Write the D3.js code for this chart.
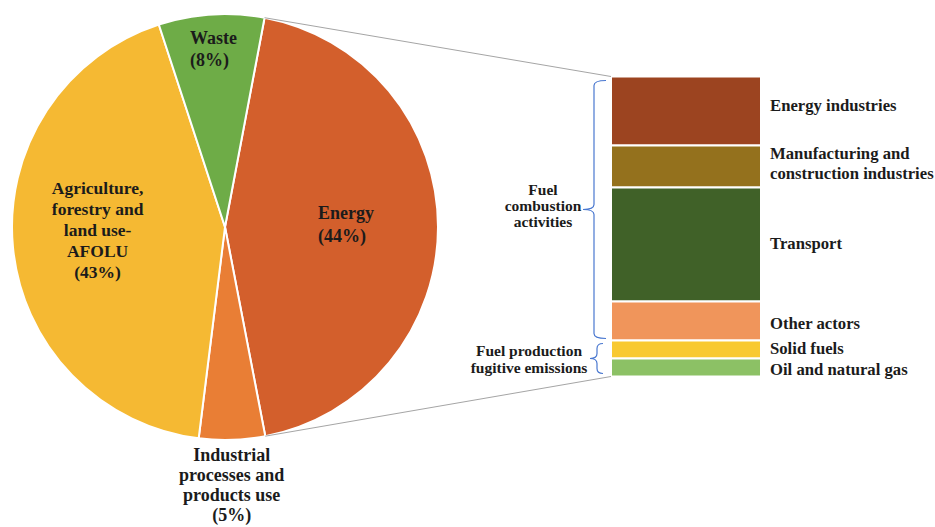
<!DOCTYPE html>
<html>
<head>
<meta charset="utf-8">
<script src="https://cdn.jsdelivr.net/npm/d3@7"></script>
<style>
  html, body { margin: 0; padding: 0; background: #fff; }
  svg { display: block; font-family: "Liberation Serif", "Times New Roman", serif; }
</style>
</head>
<body>
<svg id="chart" width="935" height="527"></svg>
<script>
// Emission shares by sector (%)
const sectors = ["Energy", "Industrial processes and products use", "Agriculture, forestry and land use-AFOLU", "Waste"];
const sectorShares = [44, 5, 43, 8];
const sectorLabelLines = [
  ["Energy", "(44%)"],
  ["Industrial", "processes and", "products use", "(5%)"],
  ["Agriculture,", "forestry and", "land use-", "AFOLU", "(43%)"],
  ["Waste", "(8%)"]
];

// Breakdown of the energy sector (%)
const energySubsectors = ["Energy industries", "Manufacturing and construction industries", "Transport", "Other actors", "Solid fuels", "Oil and natural gas"];
const energyShares = [23, 14, 38, 13, 6, 6];
const energyLabelLines = [
  ["Energy industries"],
  ["Manufacturing and", "construction industries"],
  ["Transport"],
  ["Other actors"],
  ["Solid fuels"],
  ["Oil and natural gas"]
];

// Groups of energy subsectors marked with braces
const groups = ["Fuel combustion activities", "Fuel production fugitive emissions"];
const groupLabelLines = [["Fuel", "combustion", "activities"], ["Fuel production", "fugitive emissions"]];
const groupMembers = [[0, 1, 2, 3], [4, 5]];

// ---- styling ----
const sectorColors = ["#D35F2C", "#E97E35", "#F5B933", "#6EAC47"];
const subsectorColors = ["#9C4420", "#94711D", "#406128", "#F0955B", "#F8C931", "#8CC165"];
const textColor = "#1b1b1b";
const braceColor = "#4A78D0";

const svg = d3.select("#chart");

// ---- pie ----
const cx = 225, cy = 227, radius = 213;
const startAngle = 10.7 * Math.PI / 180;

const pie = d3.pie().sort(null).value(d => d)
  .startAngle(startAngle).endAngle(startAngle + 2 * Math.PI);
const arcs = pie(sectorShares);
const arc = d3.arc().innerRadius(0).outerRadius(radius);

const pieG = svg.append("g").attr("transform", `translate(${cx},${cy})`);
pieG.selectAll("path.slice")
  .data(arcs)
  .join("path")
  .attr("class", "slice")
  .attr("d", arc)
  .attr("fill", (d, i) => sectorColors[i])
  .attr("stroke", "#fff")
  .attr("stroke-width", 2)
  .attr("stroke-linejoin", "round");

// label placement: radius from centre, nudge, alignment and font size per slice
const labelRadius = [122, 262, 128, 178];
const labelNudge = [[-1, -2], [-2, -4], [0, -9], [0, 0]];
const labelAlign = ["start", "middle", "middle", "start"];
const labelSize = [18, 18, 17.5, 18];
const labelLineH = [23, 20, 21, 22];

arcs.forEach((a, i) => {
  const mid = (a.startAngle + a.endAngle) / 2;
  let [px, py] = d3.pointRadial(mid, labelRadius[i]);
  px += labelNudge[i][0];
  py += labelNudge[i][1];
  const lines = sectorLabelLines[i];
  const lh = labelLineH[i];
  const t = pieG.append("text")
    .attr("font-size", labelSize[i])
    .attr("font-weight", "bold")
    .attr("fill", textColor);
  const y0 = py - (lines.length - 1) * lh / 2;
  const spans = lines.map((ln, k) => t.append("tspan")
    .attr("x", px)
    .attr("y", y0 + k * lh)
    .attr("dominant-baseline", "central")
    .attr("text-anchor", "middle")
    .text(ln));
  if (labelAlign[i] === "start") {
    const w = d3.max(spans, s => s.node().getComputedTextLength());
    spans.forEach(s => s.attr("text-anchor", "start").attr("x", px - w / 2));
  }
});

// ---- stacked bar for the energy sector ----
const barX = 611, barW = 150, barTop = 76.5, barBottom = 376.5;
const y = d3.scaleLinear().domain([0, d3.sum(energyShares)]).range([barTop, barBottom]);
const cum = d3.cumsum(energyShares);
const segs = energyShares.map((v, i) => ({ i, y0: cum[i] - v, y1: cum[i] }));

svg.append("g").selectAll("rect")
  .data(segs)
  .join("rect")
  .attr("x", barX)
  .attr("y", d => y(d.y0))
  .attr("width", barW)
  .attr("height", d => y(d.y1) - y(d.y0))
  .attr("fill", d => subsectorColors[d.i])
  .attr("stroke", "#fff")
  .attr("stroke-width", 2);

// subsector labels
const subLabelX = barX + barW + 9;
const subLineH = 20;
const subLabelNudge = [-6, -3, -1, 2, -1, 2];
segs.forEach(d => {
  const lines = energyLabelLines[d.i];
  const mid = (y(d.y0) + y(d.y1)) / 2 + subLabelNudge[d.i];
  const t = svg.append("text")
    .attr("font-size", 16.7)
    .attr("font-weight", "bold")
    .attr("fill", textColor);
  lines.forEach((ln, k) => t.append("tspan")
    .attr("x", subLabelX)
    .attr("y", mid - (lines.length - 1) * subLineH / 2 + k * subLineH)
    .attr("dominant-baseline", "central")
    .text(ln));
});

// ---- connector lines from the Energy slice to the bar ----
const energyArc = arcs[0];
const pA = d3.pointRadial(energyArc.startAngle, radius);
const pB = d3.pointRadial(energyArc.endAngle, radius);
svg.append("line")
  .attr("x1", cx + pA[0]).attr("y1", cy + pA[1])
  .attr("x2", barX).attr("y2", y(0))
  .attr("stroke", "#A5A5A5").attr("stroke-width", 1);
svg.append("line")
  .attr("x1", cx + pB[0]).attr("y1", cy + pB[1])
  .attr("x2", barX).attr("y2", y(d3.sum(energyShares)))
  .attr("stroke", "#A5A5A5").attr("stroke-width", 1);

// ---- braces grouping the subsectors ----
function bracePath(x, y1, y2, tip, hook) {
  const ym = (y1 + y2) / 2;
  const r = Math.min(5, (y2 - y1) / 4);
  return `M${x + hook},${y1}` +
    ` Q${x},${y1} ${x},${y1 + r}` +
    ` L${x},${ym - r}` +
    ` Q${x},${ym} ${x - tip},${ym}` +
    ` Q${x},${ym} ${x},${ym + r}` +
    ` L${x},${y2 - r}` +
    ` Q${x},${y2} ${x + hook},${y2}`;
}

const braceX = [594, 597];
const braceInset = [[4, 2], [3, 3]];
const braceTip = [11, 7];
const braceHook = [12, 6];
const groupLabelX = [543, 529];
const groupLabelNudge = [-4, 0];
const groupLineH = [16, 17];

groupMembers.forEach((members, g) => {
  const y1 = y(segs[members[0]].y0) + braceInset[g][0];
  const y2 = y(segs[members[members.length - 1]].y1) - braceInset[g][1];
  svg.append("path")
    .attr("d", bracePath(braceX[g], y1, y2, braceTip[g], braceHook[g]))
    .attr("fill", "none")
    .attr("stroke", braceColor)
    .attr("stroke-width", 1.2);
  const ym = (y1 + y2) / 2 + groupLabelNudge[g];
  const lines = groupLabelLines[g];
  const t = svg.append("text")
    .attr("font-size", 15.5)
    .attr("font-weight", "bold")
    .attr("fill", textColor)
    .attr("text-anchor", "middle");
  lines.forEach((ln, k) => t.append("tspan")
    .attr("x", groupLabelX[g])
    .attr("y", ym - (lines.length - 1) * groupLineH[g] / 2 + k * groupLineH[g])
    .attr("dominant-baseline", "central")
    .text(ln));
});
</script>
</body>
</html>
